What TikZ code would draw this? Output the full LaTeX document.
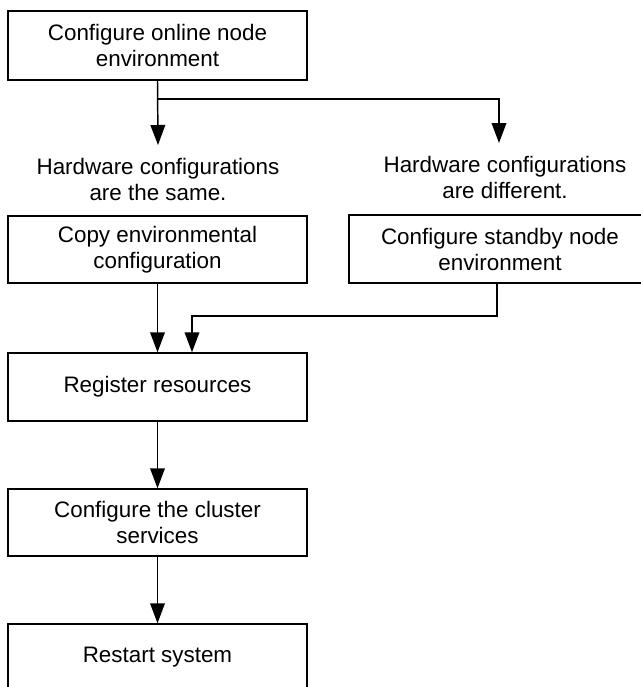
\documentclass[tikz,border=0pt]{standalone}
\usepackage{fontspec}
\setmainfont{Liberation Sans}
\usetikzlibrary{arrows.meta}
\begin{document}
\begin{tikzpicture}[x=0.75pt,y=-0.75pt,
  txt/.style={font={\fontsize{16.8}{19.5}\selectfont}},
  box/.style={txt, draw, line width=1.1pt, minimum width=224.25pt, minimum height=50.25pt, align=center, inner sep=0pt},
  lbl/.style={txt, align=center, inner xsep=0pt, inner ysep=9.75pt, anchor=north},
  arr/.style={line width=1.1pt, -{Triangle[length=15pt,width=11pt]}},
  conn/.style={line width=1.1pt}]
\path[use as bounding box] (0,0) rectangle (641,687);
\clip (0,0) rectangle (641,687);
\node[box, minimum height=51.75pt] (b1) at (157.5,45.5) {Configure online node\\environment};
\node[lbl] (lblL) at (158,145) {Hardware configurations\\are the same.};
\node[lbl] (lblR) at (505,143) {Hardware configurations\\are different.};
\node[box] (b2) at (157.5,249.5) {Copy environmental\\configuration};
\node[box, minimum width=226.5pt, minimum height=51pt] (b3) at (500,249) {Configure standby node\\environment};
\node[box, minimum height=51pt] (b4) at (157.5,387) {Register resources};
\node[box] (b5) at (157.5,522.5) {Configure the cluster\\services};
\node[box] (b6) at (157.5,657.5) {Restart system};
\coordinate (br) at (158,99);
\coordinate (jn) at (192,316);
\draw[arr] (b1.south) -- (lblL.north);
\draw[arr] (br) -| ([xshift=-4.5pt]lblR.north);
\draw[arr] (b2.south) -- (b4.north);
\draw[arr] ([xshift=-2.25pt]b3.south) |- (jn) -- (jn |- b4.north);
\draw[arr] (b4.south) -- (b5.north);
\draw[arr] (b5.south) -- (b6.north);
\end{tikzpicture}
\end{document}
